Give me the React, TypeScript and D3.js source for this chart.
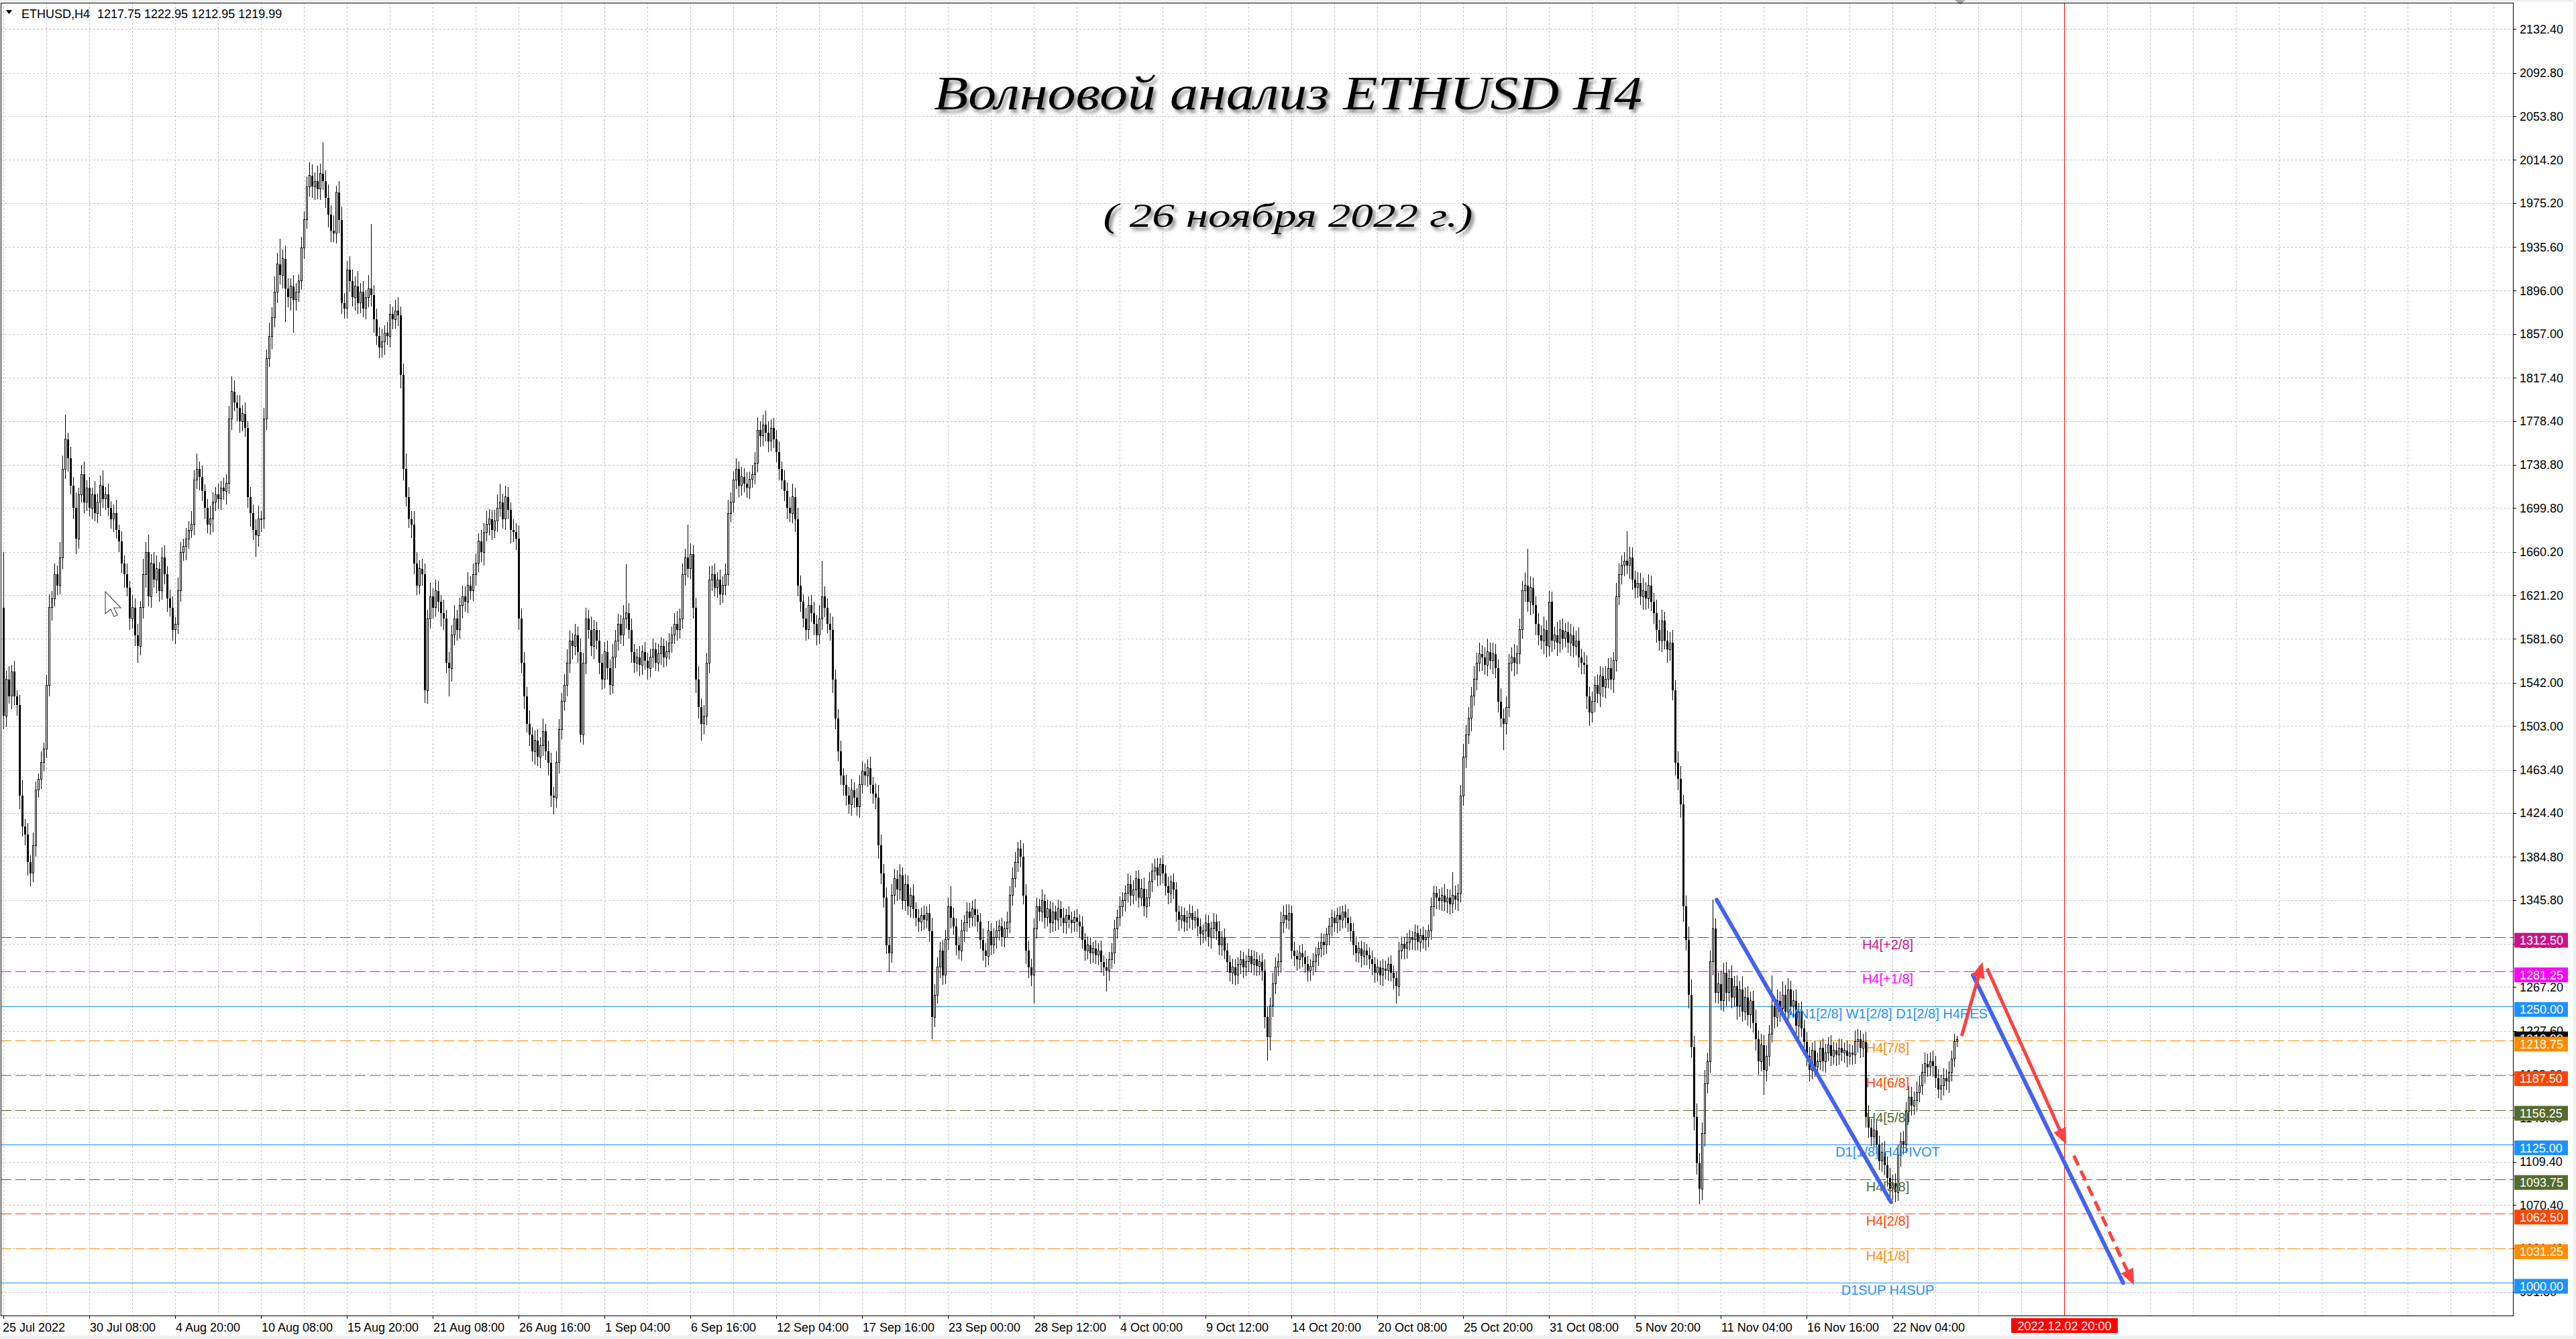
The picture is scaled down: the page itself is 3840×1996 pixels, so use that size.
import React, { useRef, useEffect } from "react";
import * as d3 from "d3";

const WIDTH = 3840;
const HEIGHT = 1996;
const AXIS_FONT = "'Liberation Sans', Arial, sans-serif";

// ETHUSD H4 closes, bar 0 = 25 Jul 2022 00:00
const firstOpen = 1610;
const closesJulAug = [
  1512, 1545, 1530, 1552, 1530, 1522, 1440, 1412,
  1405, 1380, 1370, 1395, 1445, 1455, 1470, 1482,
  1540, 1610, 1618, 1640, 1630, 1655, 1735, 1762,
  1745, 1720, 1700, 1672, 1712, 1730, 1705, 1718,
  1700, 1712, 1695, 1705, 1720, 1708, 1712, 1700,
  1690, 1695, 1680, 1670, 1650, 1640, 1628, 1600,
  1610, 1585, 1575, 1610, 1640, 1660, 1620, 1650,
  1635, 1645, 1625, 1655, 1640, 1618, 1610, 1590,
  1595, 1625, 1660, 1665, 1672, 1680, 1685, 1725,
  1735, 1728, 1715, 1700, 1685, 1690, 1705, 1712,
  1708, 1718, 1715, 1722, 1780, 1805, 1795, 1790,
  1778, 1785, 1772, 1710, 1695, 1680, 1675, 1690,
  1690, 1780, 1835, 1855, 1872, 1895, 1920, 1910,
  1925, 1898, 1890, 1900, 1888, 1895, 1905, 1935,
  1960, 1990, 2000, 1990, 1995, 1988, 2002, 1995,
  1980, 1965, 1950, 1948, 1985, 1960, 1885, 1880,
  1915, 1905, 1890, 1900, 1885, 1895, 1880, 1890,
  1898, 1892, 1870, 1855, 1845, 1850, 1858, 1855,
  1875, 1870, 1878, 1874, 1820, 1735, 1710, 1690,
  1685, 1650, 1630, 1645, 1640, 1535, 1600, 1620,
  1610, 1625, 1615, 1605, 1600, 1560, 1555, 1585,
  1600, 1590, 1612, 1620, 1615, 1630, 1625, 1640,
  1650, 1670, 1660, 1678, 1685, 1690, 1680, 1688,
  1700, 1705, 1690, 1710, 1698, 1680, 1678, 1672,
  1600, 1560, 1530, 1505, 1495, 1480, 1490, 1475,
  1485, 1498, 1480, 1470, 1440, 1438, 1470, 1500,
  1525, 1540, 1560, 1580, 1575, 1585, 1570, 1495,
  1560, 1600, 1590, 1575, 1590, 1580, 1560, 1545,
];
const closesSep = [
  1570, 1555, 1540, 1565, 1580, 1595, 1585, 1600,
  1605, 1590, 1570, 1560, 1565, 1558, 1570, 1562,
  1555, 1565, 1572, 1560, 1568, 1575, 1565, 1570,
  1578, 1585, 1595, 1590, 1600, 1640, 1655, 1645,
  1658, 1610, 1545, 1520, 1505, 1512, 1560, 1635,
  1640, 1628, 1635, 1622, 1630, 1640, 1695, 1705,
  1725, 1735, 1720, 1728, 1722, 1718, 1726, 1730,
  1740, 1770, 1765, 1775, 1768, 1760, 1772, 1762,
  1750, 1735, 1725, 1715, 1700, 1695, 1710, 1690,
  1630, 1615, 1600, 1590, 1612, 1605, 1595, 1585,
  1600, 1620, 1610, 1595, 1590, 1545, 1510, 1480,
  1458, 1450, 1440, 1432, 1445, 1438, 1430, 1450,
  1462, 1458, 1465, 1450, 1442, 1438, 1395, 1370,
  1348, 1305, 1298, 1350, 1365, 1355, 1368, 1345,
  1360, 1340, 1350, 1338, 1330, 1326, 1332, 1328,
  1334, 1318, 1240, 1260, 1285, 1300, 1278, 1310,
  1340, 1330, 1322, 1305, 1300, 1318, 1325, 1335,
  1330, 1338, 1332, 1326, 1310, 1300, 1295, 1318,
  1305, 1312, 1318, 1322, 1312, 1320, 1326, 1350,
  1365, 1380, 1392, 1385, 1350, 1300, 1285, 1278,
  1320, 1340, 1335, 1345, 1330, 1338, 1325, 1335,
  1328, 1338, 1330, 1325, 1332, 1328, 1325, 1330,
  1326, 1322, 1310, 1300, 1305, 1298, 1302, 1296,
  1300, 1290, 1285, 1282, 1292, 1298, 1320, 1330,
];
const closesOct = [
  1340, 1345, 1352, 1360, 1350, 1355, 1365, 1348,
  1356, 1340, 1348, 1362, 1372, 1375, 1368, 1378,
  1370, 1358, 1352, 1362, 1355, 1335, 1328, 1332,
  1326, 1330, 1334, 1328, 1330, 1322, 1315, 1318,
  1325, 1312, 1320, 1326, 1318, 1305, 1312, 1300,
  1290, 1280, 1285, 1278, 1288, 1292, 1285, 1290,
  1295, 1288, 1292, 1286, 1290, 1282, 1240, 1222,
  1250, 1270, 1285, 1290, 1325, 1332, 1328, 1334,
  1300, 1295, 1292, 1298, 1294, 1288, 1282, 1286,
  1290, 1296, 1302, 1308, 1305, 1315, 1322, 1330,
  1325, 1332, 1328, 1335, 1330, 1325, 1318, 1305,
  1298, 1302, 1295, 1300, 1296, 1292, 1288, 1280,
  1285, 1278, 1284, 1282, 1288, 1280, 1275, 1268,
  1300, 1306, 1302, 1308, 1312, 1310, 1316, 1308,
  1314, 1310, 1312, 1318, 1340, 1352, 1348, 1345,
  1350, 1344, 1348, 1342, 1350, 1346, 1352, 1440,
  1475, 1495, 1510, 1530, 1545, 1560, 1568, 1565,
  1558, 1570, 1562, 1568, 1555, 1525, 1510, 1505,
  1520, 1560, 1565, 1560, 1568, 1590, 1625, 1630,
  1615, 1628, 1612, 1595, 1585, 1580, 1590, 1575,
  1615, 1580, 1585, 1578, 1590, 1582, 1588, 1578,
];
const closesNov = [
  1585, 1575, 1580, 1565, 1560, 1558, 1530, 1515,
  1525, 1540, 1532, 1548, 1538, 1545, 1555, 1545,
  1562, 1620, 1640, 1648, 1652, 1648, 1655, 1635,
  1628, 1632, 1620, 1625, 1618, 1630, 1615, 1605,
  1590, 1580, 1598, 1580, 1572, 1578, 1535, 1470,
  1455, 1432, 1340, 1310, 1260, 1213, 1150, 1108,
  1085, 1135, 1180, 1200, 1290, 1320, 1262, 1270,
  1255, 1280, 1262, 1275, 1258, 1268, 1250, 1265,
  1245, 1258, 1242, 1255, 1235, 1220, 1200, 1215,
  1192, 1205, 1225, 1250, 1240, 1255, 1248, 1260,
  1245, 1265, 1250, 1255, 1232, 1245, 1230, 1218,
  1205, 1192, 1210, 1195, 1200, 1212, 1200, 1208,
  1215, 1205, 1210, 1206, 1212, 1208, 1210, 1205,
  1208, 1206, 1218, 1220, 1212, 1218, 1150, 1140,
  1132, 1138, 1125, 1110, 1118, 1106, 1095, 1085,
  1090, 1082, 1115, 1128, 1125, 1155, 1168, 1160,
  1165, 1172, 1178, 1190, 1198, 1195, 1200, 1196,
  1185, 1175, 1178, 1185, 1182, 1190, 1202, 1217.75,
  1219.99,
];

// shadow lengths above / below each body, price units
const wickUp = [
  50,8,12,6,10,5,9,14,7,10,6,12,8,5,10,6,
  9,12,7,10,8,14,12,22,6,10,8,14,6,9,12,7,
  10,6,12,8,9,14,7,10,6,8,12,5,9,7,10,6,
  12,8,10,6,14,9,16,8,10,12,6,9,11,7,8,10,
  6,12,9,7,10,8,12,9,14,7,10,6,8,12,9,7,
  10,6,9,8,12,14,10,7,12,8,10,6,9,8,10,12,
  7,10,8,12,9,14,10,23,8,12,9,7,10,8,6,10,
  8,9,12,10,8,14,9,28,10,12,8,14,6,10,12,9,
  8,12,10,9,14,8,10,7,12,58,9,10,8,12,7,10,
  9,7,10,12,8,10,14,9,7,12,10,8,9,10,8,12,
  7,10,9,6,12,8,10,9,12,8,7,10,9,12,8,10,
  9,7,10,8,12,9,8,10,12,17,8,10,9,7,10,8,
  12,9,10,8,12,7,9,10,8,12,7,10,9,8,10,9,
  8,10,12,9,7,10,8,12,9,10,8,12,9,7,10,8,
  9,10,8,12,10,9,8,12,44,9,10,7,8,10,6,9,
  7,8,10,6,9,8,7,10,9,8,10,12,9,10,8,30,
  10,8,9,12,8,10,9,12,8,10,7,9,8,10,12,9,
  8,10,7,9,8,10,7,9,10,12,8,9,13,10,8,9,
  8,10,7,9,8,10,12,8,10,9,7,10,8,9,10,8,
  12,32,9,8,10,12,9,8,10,7,9,8,10,7,9,8,
  9,7,8,10,7,9,12,10,8,9,7,10,9,8,10,7,
  9,8,7,10,6,8,7,9,6,8,12,10,9,8,10,9,
  8,18,9,7,8,10,7,9,8,7,9,6,8,10,7,9,
  7,8,9,6,8,7,9,8,10,9,6,8,12,10,9,8,
  9,8,7,10,6,8,7,9,6,8,7,9,6,8,7,6,
  8,7,9,6,8,7,6,8,7,9,6,8,7,9,8,7,
  9,8,7,10,8,9,7,8,9,10,8,9,7,8,9,6,
  8,7,9,6,8,7,6,8,7,6,8,7,6,8,7,6,
  8,7,6,8,7,9,6,8,7,6,8,7,6,8,7,6,
  7,6,8,7,6,8,10,9,8,10,9,8,10,9,10,8,
  7,8,6,7,8,6,7,6,8,7,6,8,7,6,8,7,
  6,7,8,6,7,8,6,7,8,6,7,8,6,7,8,6,
  7,6,8,7,6,8,7,6,8,7,6,8,7,6,8,7,
  6,8,7,6,8,7,6,8,7,10,8,7,21,9,8,10,
  12,9,10,8,12,9,10,8,9,12,8,10,9,8,12,9,
  10,8,9,12,8,10,9,12,33,10,9,8,10,9,12,8,
  10,9,8,12,9,10,8,9,10,8,9,12,8,10,9,8,
  9,8,10,9,8,12,9,10,8,12,10,9,8,27,10,9,
  8,10,9,12,8,10,9,8,12,9,10,8,9,10,12,9,
  10,12,9,10,12,14,10,12,9,10,12,8,10,26,9,10,
  12,9,10,8,12,9,10,8,12,9,10,8,9,12,8,10,
  9,10,8,28,9,10,8,12,9,10,8,9,10,8,9,8,
  9,8,7,9,8,7,9,8,7,9,8,7,9,8,7,9,
  8,7,10,9,8,7,9,10,8,9,10,8,9,10,8,9,
  8,9,10,8,9,8,10,9,8,10,9,8,10,9,8,10,
  9,8,10,9,8,10,8,7,3,
];
const wickDown = [
  12,10,7,12,8,10,12,9,10,12,12,8,10,7,9,8,
  8,10,12,7,9,8,10,9,12,8,10,14,9,7,10,8,
  8,10,7,9,12,8,10,7,9,12,8,10,9,12,8,10,
  9,10,15,8,10,12,9,10,7,12,10,8,9,12,8,10,
  13,9,10,8,12,9,7,10,8,12,9,10,8,9,12,8,
  9,10,8,12,9,10,8,12,10,9,8,10,12,9,19,10,
  12,9,10,8,12,9,10,8,12,30,9,12,30,10,9,8,
  10,8,9,10,12,9,10,8,9,12,10,8,9,12,10,9,
  9,10,8,12,10,9,8,10,9,10,12,8,10,9,12,8,
  10,9,8,10,12,10,9,8,12,10,9,8,10,11,12,9,
  10,8,9,12,10,9,25,12,9,10,8,12,9,10,8,9,
  10,8,9,12,8,10,9,7,10,8,9,10,8,12,9,10,
  10,9,12,8,10,9,12,8,10,9,8,12,10,15,9,10,
  9,8,10,9,12,8,10,7,9,10,8,9,12,8,10,9,
  8,10,9,8,10,9,8,10,9,8,10,9,8,10,9,8,
  10,8,9,7,8,10,9,8,7,9,8,10,8,9,10,8,
  9,10,12,10,15,10,8,9,10,8,9,10,8,9,10,8,
  9,8,10,9,8,9,10,8,9,8,10,9,8,10,9,8,
  9,10,8,9,10,8,9,12,10,9,8,10,9,8,10,9,
  8,10,9,8,10,12,10,9,8,10,9,8,10,9,8,10,
  8,9,10,8,9,10,12,10,9,8,17,9,8,10,9,8,
  9,8,10,9,8,9,8,9,8,10,20,9,8,10,9,8,
  9,10,8,9,8,9,10,8,9,8,10,9,8,9,10,8,
  9,8,10,9,8,9,8,10,9,8,9,10,8,12,10,10,
  26,9,8,9,10,8,9,8,10,9,8,9,10,8,9,8,
  9,10,8,9,8,10,9,8,9,10,8,19,9,8,10,9,
  8,9,10,8,9,8,10,9,8,9,10,8,9,8,10,9,
  9,8,10,9,8,9,10,8,9,8,10,9,8,9,10,8,
  9,8,10,9,8,9,10,8,9,8,10,9,8,9,10,8,
  9,8,10,9,8,9,10,21,12,10,9,8,10,9,8,9,
  8,9,10,8,9,8,10,9,8,9,10,8,9,8,10,9,
  8,9,10,8,9,8,10,9,8,9,10,8,9,8,10,9,
  8,9,10,8,9,8,10,16,9,8,10,9,8,9,10,8,
  9,8,10,9,8,9,10,8,9,8,10,9,8,9,10,8,
  9,10,8,12,9,10,8,12,9,10,8,12,9,10,8,24,
  10,9,8,12,10,9,8,10,9,12,8,10,9,8,12,10,
  9,10,8,12,9,10,8,9,12,10,8,9,10,8,12,12,
  9,10,8,12,9,10,8,9,12,10,8,9,10,8,12,9,
  10,9,8,12,10,9,8,10,12,9,10,8,12,10,9,12,
  10,12,14,10,12,10,12,10,14,10,12,9,10,12,9,10,
  9,10,12,8,10,9,12,10,9,8,10,12,9,10,12,9,
  22,10,9,8,10,9,12,8,10,9,8,10,9,12,8,10,
  9,10,8,9,10,8,9,10,8,9,8,10,9,8,9,10,
  8,9,8,10,9,8,10,9,8,10,9,8,10,9,8,13,
  10,9,8,10,9,8,10,9,8,10,9,8,10,9,8,10,
  9,8,10,9,8,10,8,7,5,
];

// time axis labels, one every 32 bars
const timeLabels = [
  "25 Jul 2022", "30 Jul 08:00", "4 Aug 20:00", "10 Aug 08:00", "15 Aug 20:00",
  "21 Aug 08:00", "26 Aug 16:00", "1 Sep 04:00", "6 Sep 16:00", "12 Sep 04:00",
  "17 Sep 16:00", "23 Sep 00:00", "28 Sep 12:00", "4 Oct 00:00", "9 Oct 12:00",
  "14 Oct 20:00", "20 Oct 08:00", "25 Oct 20:00", "31 Oct 08:00", "5 Nov 20:00",
  "11 Nov 04:00", "16 Nov 16:00", "22 Nov 04:00",
];
const labelStep = 32;
const gridStep = 16;

// price axis ticks
const priceTicks = [
  2132.4, 2092.8, 2053.8, 2014.2, 1975.2, 1935.6, 1896.0, 1857.0, 1817.4, 1778.4,
  1738.8, 1699.8, 1660.2, 1621.2, 1581.6, 1542.0, 1503.0, 1463.4, 1424.4, 1384.8,
  1345.8, 1306.2, 1267.2, 1227.6, 1188.6, 1149.0, 1109.4, 1070.4, 1031.4, 991.8,
];

// Murrey levels
const levelPrices = [1312.5, 1281.25, 1250, 1218.75, 1187.5, 1156.25, 1125, 1093.75, 1062.5, 1031.25, 1000];
const levelNames = [
  "H4[+2/8]", "H4[+1/8]", "MN1[2/8] W1[2/8] D1[2/8] H4RES", "H4[7/8]", "H4[6/8]",
  "H4[5/8]", "D1[1/8] H4PIVOT", "H4[3/8]", "H4[2/8]", "H4[1/8]", "D1SUP H4SUP",
];
const levelColors = [
  "#C71585", "#FF00FF", "#1E90FF", "#FF8C00", "#FF4500",
  "#556B2F", "#1E90FF", "#556B2F", "#FF4500", "#FF8C00", "#1E90FF",
];
const levelSolid = [false, false, true, false, false, false, true, false, false, false, true];
const levelLabelBar = 702.25;

const askPrice = 1223.4;
const lastClose = "1219.99";
const headerText = "1217.75 1222.95 1212.95 1219.99";

const futureBar = 768;
const futureLabel = "2022.12.02 20:00";

// wave drawings: [bar, price] -> [bar, price]
const waveLines = [
  [[638.5, 1346], [703.5, 1073]],
  [[734, 1278], [790, 1000]],
];
const arrowLines = [
  [[729.8, 1223], [737.6, 1290]],
  [[739.3, 1284], [768.8, 1125]],
  [[771.6, 1115], [794, 998]],
];
const arrowDashed = [false, false, true];

const App: React.FC = () => {
  const svgRef = useRef<SVGSVGElement | null>(null);

  useEffect(() => {
    if (!svgRef.current) return;
    const svg = d3.select(svgRef.current);
    svg.selectAll("*").remove();

    const plot = { left: 1, top: 4, right: 3746, bottom: 1961 };

    const x = d3.scaleLinear().domain([0, 800]).range([5, 3205]);
    const y = d3.scaleLinear().domain([1000, 1312.5]).range([1912.4, 1396.6]);

    const closes = [...closesJulAug, ...closesSep, ...closesOct, ...closesNov];
    const candles = closes.map((c, i) => {
      const o = i === 0 ? firstOpen : closes[i - 1];
      return {
        i,
        o,
        c,
        h: Math.max(o, c) + (wickUp[i] ?? 0),
        l: Math.min(o, c) - (wickDown[i] ?? 0),
      };
    });

    const defs = svg.append("defs");
    defs
      .append("clipPath")
      .attr("id", "plotClip")
      .append("rect")
      .attr("x", plot.left + 1)
      .attr("y", plot.top + 1)
      .attr("width", plot.right - plot.left - 1)
      .attr("height", plot.bottom - plot.top - 1);
    const shadow = defs
      .append("filter")
      .attr("id", "titleShadow")
      .attr("x", "-5%")
      .attr("y", "-20%")
      .attr("width", "110%")
      .attr("height", "150%");
    shadow
      .append("feDropShadow")
      .attr("dx", 4)
      .attr("dy", 5)
      .attr("stdDeviation", 2.5)
      .attr("flood-color", "#555")
      .attr("flood-opacity", 0.7);

    // page + panel
    svg.append("rect").attr("width", WIDTH).attr("height", HEIGHT).attr("fill", "#f0f0f0");
    svg.append("rect").attr("x", 0).attr("y", 3).attr("width", 3836).attr("height", 1988).attr("fill", "#ffffff");

    const g = svg.append("g").attr("clip-path", "url(#plotClip)");

    // grid
    const gridCols = d3.range(0, 59).map((k) => k * gridStep);
    g.selectAll(".vgrid")
      .data(gridCols)
      .enter()
      .append("line")
      .attr("x1", (d) => Math.round(x(d)) + 0.5)
      .attr("x2", (d) => Math.round(x(d)) + 0.5)
      .attr("y1", plot.top)
      .attr("y2", plot.bottom)
      .attr("stroke", "#c4c4c4")
      .attr("stroke-dasharray", "3,3");
    g.selectAll(".hgrid")
      .data(priceTicks)
      .enter()
      .append("line")
      .attr("x1", plot.left)
      .attr("x2", plot.right)
      .attr("y1", (d) => Math.round(y(d)) + 0.5)
      .attr("y2", (d) => Math.round(y(d)) + 0.5)
      .attr("stroke", "#c4c4c4")
      .attr("stroke-dasharray", "3,3");

    // levels
    g.selectAll(".level")
      .data(levelPrices)
      .enter()
      .append("line")
      .attr("x1", plot.left)
      .attr("x2", plot.right)
      .attr("y1", (d) => Math.round(y(d)) + 0.5)
      .attr("y2", (d) => Math.round(y(d)) + 0.5)
      .attr("stroke", (_, i) => levelColors[i])
      .attr("stroke-width", 1.2)
      .attr("stroke-dasharray", (_, i) => (levelSolid[i] ? null : "16,6"));

    // future time line
    g.append("line")
      .attr("x1", Math.round(x(futureBar)) + 0.5)
      .attr("x2", Math.round(x(futureBar)) + 0.5)
      .attr("y1", plot.top)
      .attr("y2", plot.bottom)
      .attr("stroke", "#ff0000");

    // candles
    const cg = g.append("g").attr("shape-rendering", "crispEdges");
    cg.selectAll(".wick")
      .data(candles)
      .enter()
      .append("line")
      .attr("x1", (d) => Math.round(x(d.i)) + 0.5)
      .attr("x2", (d) => Math.round(x(d.i)) + 0.5)
      .attr("y1", (d) => y(d.h))
      .attr("y2", (d) => y(d.l))
      .attr("stroke", "#000");
    cg.selectAll(".body")
      .data(candles)
      .enter()
      .append("rect")
      .attr("x", (d) => (d.c >= d.o ? Math.round(x(d.i)) - 0.5 : Math.round(x(d.i)) - 1))
      .attr("width", (d) => (d.c >= d.o ? 2 : 3))
      .attr("y", (d) => y(Math.max(d.o, d.c)))
      .attr("height", (d) => Math.max(1, Math.abs(y(d.o) - y(d.c))))
      .attr("fill", (d) => (d.c >= d.o ? "#fff" : "#000"))
      .attr("stroke", (d) => (d.c >= d.o ? "#000" : "none"));

    // level captions
    g.selectAll(".levelText")
      .data(levelPrices)
      .enter()
      .append("text")
      .attr("x", x(levelLabelBar))
      .attr("y", (d) => y(d) + 18)
      .attr("text-anchor", "middle")
      .attr("font-family", AXIS_FONT)
      .attr("font-size", 20)
      .attr("fill", (_, i) => levelColors[i])
      .text((_, i) => levelNames[i]);

    // wave lines
    g.selectAll(".wave")
      .data(waveLines)
      .enter()
      .append("line")
      .attr("x1", (d) => x(d[0][0]))
      .attr("y1", (d) => y(d[0][1]))
      .attr("x2", (d) => x(d[1][0]))
      .attr("y2", (d) => y(d[1][1]))
      .attr("stroke", "#4462F0")
      .attr("stroke-width", 6)
      .attr("stroke-linecap", "round");

    // red arrows
    arrowLines.forEach((a, k) => {
      const x1 = x(a[0][0]);
      const y1 = y(a[0][1]);
      const x2 = x(a[1][0]);
      const y2 = y(a[1][1]);
      const len = Math.hypot(x2 - x1, y2 - y1);
      const ux = (x2 - x1) / len;
      const uy = (y2 - y1) / len;
      const headL = 24;
      const headW = 10;
      const bx = x2 - ux * headL;
      const by = y2 - uy * headL;
      g.append("line")
        .attr("x1", x1)
        .attr("y1", y1)
        .attr("x2", bx + ux * 2)
        .attr("y2", by + uy * 2)
        .attr("stroke", "#FF4040")
        .attr("stroke-width", 5)
        .attr("stroke-dasharray", arrowDashed[k] ? "16,9" : null);
      g.append("polygon")
        .attr(
          "points",
          [
            [x2, y2],
            [bx - uy * headW, by + ux * headW],
            [bx + uy * headW, by - ux * headW],
          ]
            .map((p) => p.join(","))
            .join(" ")
        )
        .attr("fill", "#FF4040");
    });

    // title
    svg.append("text")
      .attr("x", 1920)
      .attr("y", 163)
      .attr("text-anchor", "middle")
      .attr("font-family", "'Liberation Serif', 'DejaVu Serif', serif")
      .attr("font-style", "italic")
      .attr("font-size", 72)
      .attr("textLength", 1056)
      .attr("lengthAdjust", "spacingAndGlyphs")
      .attr("fill", "#000")
      .attr("filter", "url(#titleShadow)")
      .text("Волновой анализ ETHUSD H4");
    svg.append("text")
      .attr("x", 1920)
      .attr("y", 338)
      .attr("text-anchor", "middle")
      .attr("font-family", "'Liberation Serif', 'DejaVu Serif', serif")
      .attr("font-style", "italic")
      .attr("font-size", 50)
      .attr("textLength", 551)
      .attr("lengthAdjust", "spacingAndGlyphs")
      .attr("fill", "#000")
      .attr("filter", "url(#titleShadow)")
      .text("( 26 ноября 2022 г.)");

    // header
    svg.append("path").attr("d", "M9,15 L18,15 L13.5,21 Z").attr("fill", "#000");
    svg.append("text")
      .attr("x", 32)
      .attr("y", 27)
      .attr("font-family", AXIS_FONT)
      .attr("font-size", 18)
      .attr("fill", "#000")
      .text("ETHUSD,H4");
    svg.append("text")
      .attr("x", 145)
      .attr("y", 27)
      .attr("font-family", AXIS_FONT)
      .attr("font-size", 18)
      .attr("fill", "#000")
      .text(headerText);

    // mouse pointer
    svg.append("path")
      .attr("d", "M157,882 L157,915 L165,908 L170,919 L175,917 L170,906 L180,906 Z")
      .attr("fill", "#fff")
      .attr("stroke", "#555")
      .attr("stroke-width", 1.2);

    // shift marker
    svg.append("path").attr("d", "M2914,0 L2930,0 L2922,7 Z").attr("fill", "#a8a8a8");

    // frame
    svg.append("rect")
      .attr("x", plot.left + 0.5)
      .attr("y", plot.top + 0.5)
      .attr("width", plot.right - plot.left)
      .attr("height", plot.bottom - plot.top)
      .attr("fill", "none")
      .attr("stroke", "#000")
      .attr("shape-rendering", "crispEdges");

    // price axis
    const ax = svg.append("g").attr("shape-rendering", "crispEdges");
    ax.selectAll(".ptick")
      .data(priceTicks)
      .enter()
      .append("line")
      .attr("x1", plot.right)
      .attr("x2", plot.right + 5)
      .attr("y1", (d) => Math.round(y(d)) + 0.5)
      .attr("y2", (d) => Math.round(y(d)) + 0.5)
      .attr("stroke", "#000");
    svg.selectAll(".plabel")
      .data(priceTicks)
      .enter()
      .append("text")
      .attr("x", 3756)
      .attr("y", (d) => y(d) + 6.5)
      .attr("font-family", AXIS_FONT)
      .attr("font-size", 18)
      .attr("fill", "#000")
      .text((d) => d3.format(".2f")(d));

    const priceBox = (price: number, color: string, label: string) => {
      const py = y(price);
      svg.append("rect")
        .attr("x", 3748)
        .attr("y", py - 6)
        .attr("width", 80)
        .attr("height", 22)
        .attr("fill", color);
      svg.append("text")
        .attr("x", 3756)
        .attr("y", py + 11.5)
        .attr("font-family", AXIS_FONT)
        .attr("font-size", 18)
        .attr("fill", "#fff")
        .text(label);
    };
    priceBox(askPrice, "#000", lastClose);
    levelPrices.forEach((p, i) => priceBox(p, levelColors[i], d3.format(".2f")(p)));

    // time axis
    ax.selectAll(".ttick")
      .data(timeLabels)
      .enter()
      .append("line")
      .attr("x1", (_, k) => Math.round(x(k * labelStep)) + 0.5)
      .attr("x2", (_, k) => Math.round(x(k * labelStep)) + 0.5)
      .attr("y1", plot.bottom)
      .attr("y2", plot.bottom + 5)
      .attr("stroke", "#000");
    svg.selectAll(".tlabel")
      .data(timeLabels)
      .enter()
      .append("text")
      .attr("x", (_, k) => (k === 0 ? 4 : x(k * labelStep) + 1))
      .attr("y", 1984.5)
      .attr("font-family", AXIS_FONT)
      .attr("font-size", 18)
      .attr("fill", "#000")
      .text((d) => d);

    const fx = x(futureBar);
    svg.append("rect")
      .attr("x", fx - 79)
      .attr("y", 1965)
      .attr("width", 159)
      .attr("height", 22)
      .attr("fill", "#ff0000");
    svg.append("text")
      .attr("x", fx + 0.5)
      .attr("y", 1982.5)
      .attr("text-anchor", "middle")
      .attr("font-family", AXIS_FONT)
      .attr("font-size", 18)
      .attr("fill", "#fff")
      .text(futureLabel);
  }, []);

  return (
    <svg
      ref={svgRef}
      width={WIDTH}
      height={HEIGHT}
      style={{ position: "absolute", left: 0, top: 0, display: "block" }}
    ></svg>
  );
};

export default App;
